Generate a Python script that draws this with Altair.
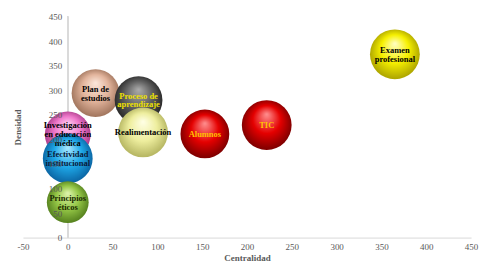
import altair as alt
import pandas as pd

# ---- data ----
nombres = ["Plan de\nestudios", "Proceso de\naprendizaje", "Realimentación",
           "Investigación\nen educación\nmédica", "Efectividad\ninstitucional",
           "Principios\néticos", "Alumnos", "TIC", "Examen\nprofesional"]
centralidad = [31, 79, 84, 0, 0, 0, 153, 222, 365]
densidad = [294, 280, 214, 210, 161, 72, 211, 229, 373]
tamano = [576, 576, 625, 529, 625, 441, 600, 625, 625]

x_ticks = list(range(-50, 451, 50))
y_ticks = list(range(0, 451, 50))

df = pd.DataFrame({
    "id": list(range(len(nombres))),
    "nombre": nombres,
    "lineas": [n.count("\n") + 1 for n in nombres],
    "centralidad": centralidad,
    "densidad": densidad,
    "tamano": tamano,
})

# ---- styles ----
esferas = [  # (light, base, dark)
    ("#FBE6DA", "#E2B49C", "#A47860"),
    ("#ACACAC", "#626262", "#2C2C2C"),
    ("#FFFFE6", "#EEEE9E", "#B8B864"),
    ("#FFD4F4", "#F07ACC", "#B0408E"),
    ("#ACE8FF", "#1EA8E8", "#0C68A6"),
    ("#DFF4AE", "#94C646", "#588420"),
    ("#FF9090", "#E40000", "#820000"),
    ("#FF9090", "#E40000", "#820000"),
    ("#FFFFC4", "#F6F000", "#B0A800"),
]
color_texto = ["#000000", "#EEE000", "#000000", "#000000", "#0A1A3A",
               "#1A2A00", "#FFC000", "#FFC000", "#000000"]

gris = "#595959"
fuente = "Liberation Serif"
alto_linea = 9

xscale = alt.Scale(domain=[-50, 450], nice=False, zero=False)
yscale = alt.Scale(domain=[0, 450], nice=False, zero=False)
xaxis = alt.Axis(values=x_ticks, grid=False, ticks=False, domainColor="#D9D9D9",
                 labelFont=fuente, labelFontSize=9, labelColor=gris, labelPadding=5,
                 labelFlush=False, labelOverlap=False,
                 labelExpr="replace(datum.label, '\u2212', '-')",
                 title="Centralidad", titleFont=fuente, titleFontSize=9,
                 titleFontWeight="bold", titleColor=gris, titlePadding=2)
yaxis = alt.Axis(values=y_ticks, grid=False, ticks=False, domain=False, offset=-45,
                 labelFont=fuente, labelFontSize=9, labelColor=gris, labelPadding=6,
                 labelOverlap=False,
                 title="Densidad", titleFont=fuente, titleFontSize=9,
                 titleFontWeight="bold", titleColor=gris, titleX=-45, titleY=111,
                 zindex=1)

base = alt.Chart(df)
enc_x = alt.X("centralidad:Q", scale=xscale, axis=xaxis)
enc_y = alt.Y("densidad:Q", scale=yscale, axis=yaxis)

regla = base.mark_rule(color="#D9D9D9", strokeWidth=1).encode(
    x=alt.X(datum=0, scale=xscale, axis=xaxis),
    y=alt.Y(datum=0, scale=yscale, axis=yaxis),
    y2=alt.datum(450),
)

capas = [regla]
for i, (cl, cb, cd) in enumerate(esferas):
    grad = alt.RadialGradient(
        gradient="radial",
        stops=[alt.GradientStop(offset=0, color=cl),
               alt.GradientStop(offset=0.5, color=cb),
               alt.GradientStop(offset=0.9, color=cd),
               alt.GradientStop(offset=1, color=cd)],
        x1=0.5, y1=0.28, r1=0, x2=0.5, y2=0.5, r2=0.56,
    )
    capa = base.transform_filter(alt.datum.id == i).mark_circle(
        fill=grad, opacity=1, fillOpacity=1
    ).encode(
        x=enc_x,
        y=enc_y,
        size=alt.Size("tamano:Q", scale=alt.Scale(domain=[0, 625], range=[0, 2500]),
                      legend=None),
    )
    capas.append(capa)

for n in (1, 2, 3):
    textos = base.transform_filter(alt.datum.lineas == n).mark_text(
        font=fuente, fontSize=8.5, fontWeight="bold", lineBreak="\n",
        lineHeight=alto_linea, baseline="middle", dy=-(n - 1) * alto_linea / 2,
    ).encode(
        x=enc_x,
        y=enc_y,
        text="nombre:N",
        color=alt.Color("nombre:N", scale=alt.Scale(domain=nombres, range=color_texto),
                        legend=None),
    )
    capas.append(textos)

chart = alt.layer(*capas).properties(
    width=450, height=222,
    autosize=alt.AutoSizeParams(type="none"),
    padding={"left": 15, "top": 8, "right": 15, "bottom": 30},
).configure_view(stroke=None)

chart.save("out.html", embed_options={"renderer": "svg", "actions": False})
